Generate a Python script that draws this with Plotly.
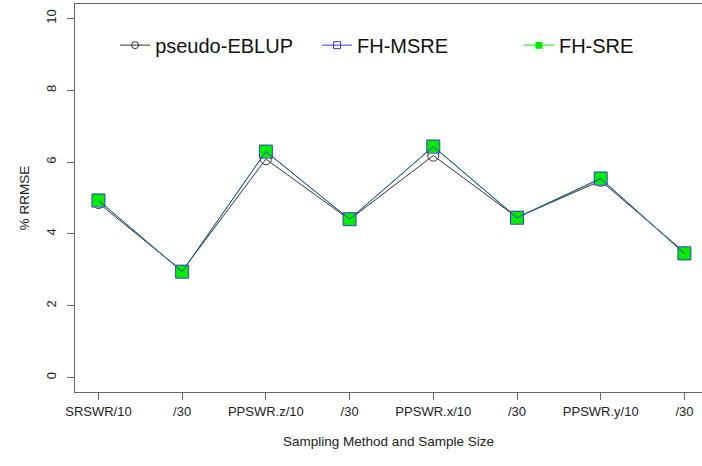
import plotly.graph_objects as go

tick_labels = ["SRSWR/10", "/30", "PPSWR.z/10", "/30", "PPSWR.x/10", "/30", "PPSWR.y/10", "/30"]
positions = [1, 2, 3, 4, 5, 6, 7, 8]
pseudo_eblup = [4.86, 2.97, 6.08, 4.40, 6.18, 4.46, 5.48, 3.49]
fh_msre = [4.93, 2.95, 6.29, 4.41, 6.43, 4.45, 5.54, 3.46]
fh_sre = [4.94, 2.95, 6.30, 4.41, 6.44, 4.46, 5.55, 3.45]
y_ticks = [0, 2, 4, 6, 8, 10]

black = "#333333"
blue = "#3a3ad0"
green = "#00ee00"

fig = go.Figure()
# data traces
fig.add_trace(go.Scatter(x=positions, y=pseudo_eblup, mode="lines+markers",
                         line=dict(color=black, width=1),
                         marker=dict(symbol="circle-open", size=11, color=black, line=dict(width=1)),
                         showlegend=False))
fig.add_trace(go.Scatter(x=positions, y=fh_sre, mode="lines+markers",
                         line=dict(color=green, width=1),
                         marker=dict(symbol="square", size=13, color=green, line=dict(width=0)),
                         showlegend=False))
fig.add_trace(go.Scatter(x=positions, y=fh_msre, mode="lines+markers",
                         line=dict(color=blue, width=1),
                         marker=dict(symbol="square-open", size=13, color=blue, line=dict(width=1)),
                         showlegend=False))
# legend entries (one legend box each, to place them like the original)
fig.add_trace(go.Scatter(x=[None], y=[None], mode="lines+markers", name="pseudo-EBLUP",
                         legend="legend",
                         line=dict(color=black, width=1),
                         marker=dict(symbol="circle-open", size=7, color=black, line=dict(width=1))))
fig.add_trace(go.Scatter(x=[None], y=[None], mode="lines+markers", name="FH-MSRE",
                         legend="legend2",
                         line=dict(color=blue, width=1),
                         marker=dict(symbol="square-open", size=7, color=blue, line=dict(width=1))))
fig.add_trace(go.Scatter(x=[None], y=[None], mode="lines+markers", name="FH-SRE",
                         legend="legend3",
                         line=dict(color=green, width=1),
                         marker=dict(symbol="square", size=7, color=green)))

leg_common = dict(orientation="h", y=0.894, xanchor="left", yanchor="middle",
                  font=dict(size=20, color="#111111"), bgcolor="rgba(0,0,0,0)")

fig.update_layout(
    width=702, height=466,
    margin=dict(l=75, r=0, t=4, b=74),
    paper_bgcolor="white", plot_bgcolor="white",
    font=dict(family="Liberation Sans, Arial, sans-serif", size=13, color="#222222"),
    legend=dict(x=0.064, **leg_common),
    legend2=dict(x=0.386, **leg_common),
    legend3=dict(x=0.708, **leg_common),
    xaxis=dict(range=[0.72, 8.21], tickmode="array", tickvals=positions, ticktext=tick_labels,
               showline=True, linecolor="#666666", linewidth=1, mirror=True,
               ticks="outside", ticklen=7, tickcolor="#666666", showgrid=False, zeroline=False,
               tickfont=dict(size=13),
               title=dict(text="Sampling Method and Sample Size", font=dict(size=13.5), standoff=18)),
    yaxis=dict(range=[-0.4, 10.4], tickmode="array", tickvals=y_ticks, tickangle=-90,
               showline=True, linecolor="#666666", linewidth=1, ticklabelstandoff=6,
               ticks="outside", ticklen=7, tickcolor="#666666", showgrid=False, zeroline=False,
               tickfont=dict(size=13),
               title=dict(text="% RRMSE", font=dict(size=13.5), standoff=11)),
)

fig.write_html("out.html", config={"displayModeBar": False},
               post_script="document.body.style.margin='0';")
